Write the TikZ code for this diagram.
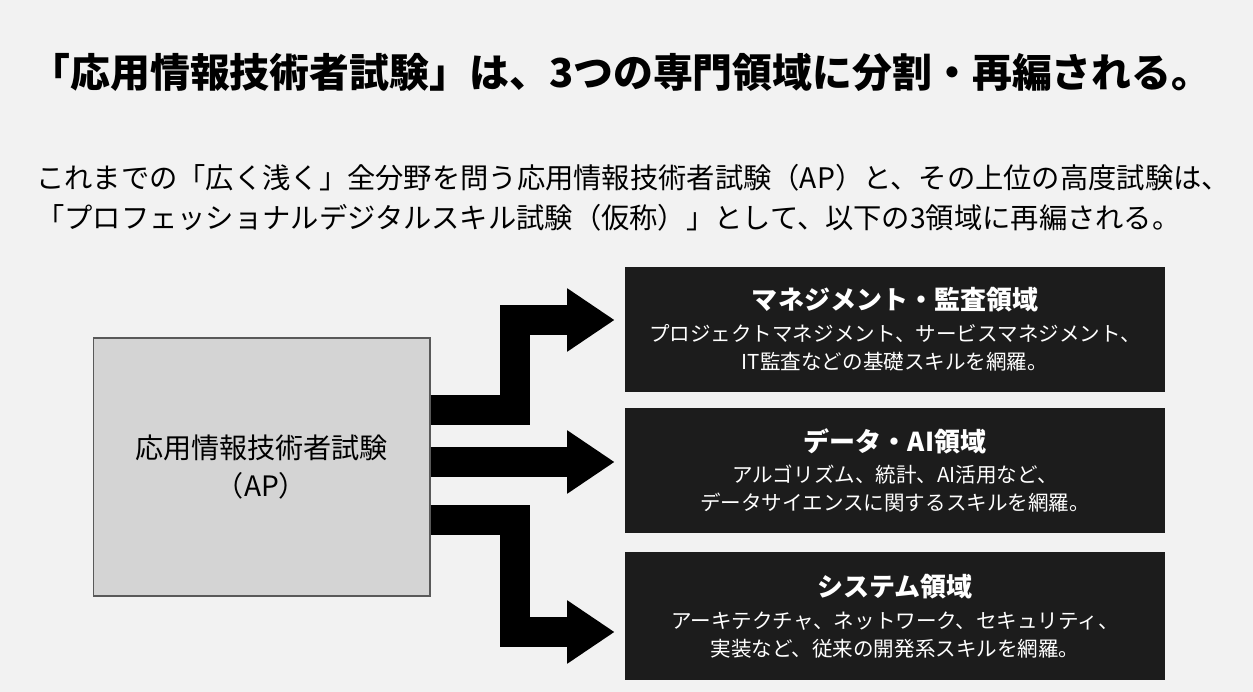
\documentclass[tikz,border=0pt]{standalone}
\usepackage{fontspec}
\setmainfont{Noto Sans CJK JP}
\usetikzlibrary{arrows.meta, positioning, calc}
\definecolor{bgcol}{HTML}{F2F2F2}
\definecolor{darkbox}{HTML}{1C1C1C}
\definecolor{apgray}{HTML}{D4D4D4}
\tikzset{
  field/.style={fill=darkbox, draw=none, minimum width=10.8cm, minimum height=2.5cm, text=white, align=center, inner sep=0pt, font=\fontsize{11.7}{16}\selectfont},
  flow/.style={line width=0.6cm, miter limit=10, -{Triangle[width=1.2cm,length=0.95cm]}, shorten >=0.2cm},
}
\newcommand{\fieldhead}[1]{{\fontsize{14.8}{20}\selectfont\bfseries #1}\\[2pt]}
\begin{document}
\begin{tikzpicture}[x=0.02cm, y=-0.02cm]
  \fill[bgcol] (0,0) rectangle (1253,692);
  \useasboundingbox (0,0) rectangle (1253,692);

  \node[font=\fontsize{22.7}{27}\selectfont\bfseries] (title) at (621,72) {「応用情報技術者試験」は、3つの専門領域に分割・再編される。};
  \node[align=left, anchor=west, font=\fontsize{16.1}{22.7}\selectfont] (lead) at (30,198) {これまでの「広く浅く」全分野を問う応用情報技術者試験（AP）と、その上位の高度試験は、\\「プロフェッショナルデジタルスキル試験（仮称）」として、以下の3領域に再編される。};

  \node[fill=apgray, draw=gray!70!black, line width=0.6pt, minimum width=6.74cm, minimum height=5.16cm, align=center, font=\fontsize{16}{22}\selectfont] (ap) at (261.5,467) {応用情報技術者試験\\（AP）};

  \node[field] (mgmt) at (895,329.5) {\fieldhead{マネジメント・監査領域}プロジェクトマネジメント、サービスマネジメント、\\IT監査などの基礎スキルを網羅。};
  \node[field] (data) at (895,470.5) {\fieldhead{データ・AI領域}アルゴリズム、統計、AI活用など、\\データサイエンスに関するスキルを網羅。};
  \node[field, minimum height=2.56cm] (sys) at (895,616) {\fieldhead{システム領域}アーキテクチャ、ネットワーク、セキュリティ、\\実装など、従来の開発系スキルを網羅。};

  \coordinate (upA) at (ap.east |- 0,410);
  \coordinate (upB) at (mgmt.west |- 0,320);
  \coordinate (midA) at (ap.east |- 0,462);
  \coordinate (midB) at (data.west |- 0,462);
  \coordinate (dnA) at (ap.east |- 0,520);
  \coordinate (dnB) at (sys.west |- 0,632);

  \draw[flow] (upA) -- (515,410) |- (upB);
  \draw[flow] (midA) -- (midB);
  \draw[flow] (dnA) -- (515,520) |- (dnB);
\end{tikzpicture}
\end{document}
